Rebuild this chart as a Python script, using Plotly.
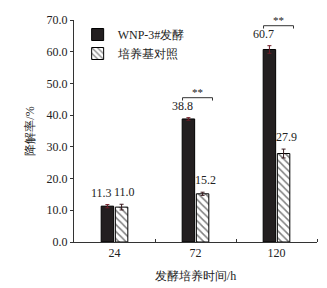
import plotly.graph_objects as go

categories = ["24", "72", "120"]
wnp_values = [11.3, 38.8, 60.7]
wnp_errors = [0.5, 0.4, 1.2]
ctrl_values = [11.0, 15.2, 27.9]
ctrl_errors = [0.9, 0.5, 1.4]
y_ticks = [0, 10, 20, 30, 40, 50, 60, 70]
sig_groups = ["72", "120"]
sig_labels = ["**", "**"]

serif = "Liberation Serif"
err_color = "#6e1c26"
xpos = list(range(len(categories)))

fig = go.Figure()
fig.add_trace(go.Bar(
    name="WNP-3#发酵", x=xpos, y=wnp_values,
    marker=dict(color="#231f20", line=dict(color="#000000", width=1)),
    error_y=dict(type="data", array=wnp_errors, color=err_color, thickness=1, width=2),
))
fig.add_trace(go.Bar(
    name="培养基对照", x=xpos, y=ctrl_values,
    marker=dict(color="#ffffff", line=dict(color="#000000", width=1),
                pattern=dict(shape="\\", fgcolor="#000000", bgcolor="#ffffff", size=5, solidity=0.3)),
    error_y=dict(type="data", array=ctrl_errors, color="#3a1a1e", thickness=1, width=2),
))

annotations = []
for i, (v, e) in enumerate(zip(wnp_values, wnp_errors)):
    annotations.append(dict(x=i, y=v + e, xref="x", yref="y", text=f"{v:.1f}", showarrow=False,
                            xshift=-13, yshift=3, yanchor="bottom",
                            font=dict(family=serif, size=12, color="#222")))
for i, (v, e) in enumerate(zip(ctrl_values, ctrl_errors)):
    annotations.append(dict(x=i, y=v + e, xref="x", yref="y", text=f"{v:.1f}", showarrow=False,
                            xshift=10, yshift=3, yanchor="bottom",
                            font=dict(family=serif, size=12, color="#222")))

shapes = []
for g, lab in zip(sig_groups, sig_labels):
    i = categories.index(g)
    top = max(wnp_values[i] + wnp_errors[i], ctrl_values[i] + ctrl_errors[i]) + 6.3
    x0 = i - 0.16
    x1 = i + 0.21
    shapes.append(dict(type="path", xref="x", yref="y",
                       path=f"M {x0} {top-0.9} L {x0} {top} L {x1} {top} L {x1} {top-0.9}",
                       line=dict(color="#333", width=1)))
    annotations.append(dict(x=(x0 + x1) / 2, y=top, xref="x", yref="y", text=lab, showarrow=False,
                            yanchor="bottom", yshift=-2, font=dict(family=serif, size=11, color="#222")))

fig.update_layout(
    width=319, height=280,
    margin=dict(l=66, r=10, t=12, b=46),
    paper_bgcolor="white", plot_bgcolor="white",
    barmode="group", bargap=0.65, bargroupgap=0.12,
    font=dict(family=serif, size=11, color="#222"),
    showlegend=True,
    legend=dict(x=0.015, y=1.0, xanchor="left", yanchor="top", bgcolor="rgba(0,0,0,0)",
                font=dict(family=serif, size=12, color="#222"), tracegroupgap=0,
                itemwidth=30),
    annotations=annotations, shapes=shapes,
)
fig.update_xaxes(
    range=[-0.5, len(categories) - 0.5], automargin=False,
    tickvals=xpos, ticktext=categories, ticks="",
    minor=dict(tickvals=[p + 0.5 for p in xpos], ticks="inside", ticklen=3, tickcolor="#333"),
    showline=True, linecolor="#333", linewidth=1,
    tickfont=dict(family=serif, size=12, color="#222"),
    title=dict(text="发酵培养时间/h", font=dict(family=serif, size=12, color="#222"), standoff=12),
    showgrid=False, zeroline=False,
)
fig.update_yaxes(
    range=[0, 70], tickvals=y_ticks, tickformat=".1f", automargin=False,
    showline=True, linecolor="#333", linewidth=1,
    ticks="outside", ticklen=3, tickcolor="#333",
    tickfont=dict(family=serif, size=12, color="#222"),
    title=dict(text="降解率/%", font=dict(family=serif, size=12, color="#222"), standoff=9),
    showgrid=False, zeroline=False,
)

fig.write_html("out.html")
